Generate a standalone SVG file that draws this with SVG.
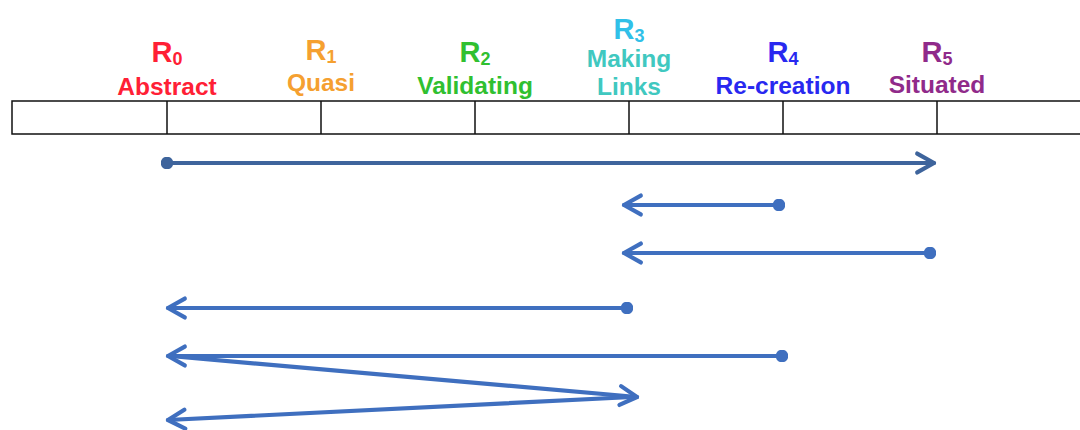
<svg xmlns="http://www.w3.org/2000/svg" width="1080" height="430" viewBox="0 0 1080 430">
<style>
.r{font-family:"Liberation Sans",Arial,sans-serif;font-weight:bold;font-size:29px;text-anchor:middle}
.s{font-size:18px}
.l{font-family:"Liberation Sans",Arial,sans-serif;font-weight:bold;font-size:24.5px;text-anchor:middle}
.bar{fill:none;stroke:#111;stroke-width:1.5}
.c{fill:none;stroke:#3f6fbf;stroke-width:4.2;stroke-linecap:round}
.c1{stroke:#3e649c}
</style>
<defs>
<marker id="ah" viewBox="0 0 12 12" refX="10" refY="6" markerWidth="6" markerHeight="6" markerUnits="strokeWidth" orient="auto">
<path d="M2,1.5 L10,6 L2,10.5" fill="none" stroke="#3f6fbf" stroke-width="2" stroke-linecap="round" stroke-linejoin="round"/>
</marker>
<marker id="ah1" viewBox="0 0 12 12" refX="10" refY="6" markerWidth="6" markerHeight="6" markerUnits="strokeWidth" orient="auto">
<path d="M2,1.5 L10,6 L2,10.5" fill="none" stroke="#3e649c" stroke-width="2" stroke-linecap="round" stroke-linejoin="round"/>
</marker>
<marker id="dot" viewBox="0 0 10 10" refX="5" refY="5" markerWidth="3" markerHeight="3" markerUnits="strokeWidth">
<circle cx="5" cy="5" r="5" fill="#3f6fbf"/>
</marker>
<marker id="dot1" viewBox="0 0 10 10" refX="5" refY="5" markerWidth="3" markerHeight="3" markerUnits="strokeWidth">
<circle cx="5" cy="5" r="5" fill="#3e649c"/>
</marker>
</defs>
<rect width="1080" height="430" fill="#fff"/>
<g id="scale">
<path class="bar" d="M1082,101 H12 V134 H1082"/>
<path class="bar" d="M167,101 V134 M321,101 V134 M475,101 V134 M629,101 V134 M783,101 V134 M937,101 V134"/>
</g>
<g id="R0" fill="#ff2035">
<text class="r" x="167" y="62">R<tspan class="s" dy="3">0</tspan></text>
<text class="l" x="167" y="95">Abstract</text>
</g>
<g id="R1" fill="#f5a030">
<text class="r" x="321" y="60">R<tspan class="s" dy="3">1</tspan></text>
<text class="l" x="321" y="91">Quasi</text>
</g>
<g id="R2" fill="#30c030">
<text class="r" x="475" y="62">R<tspan class="s" dy="3">2</tspan></text>
<text class="l" x="475" y="94">Validating</text>
</g>
<g id="R3">
<text class="r" x="629" y="39" fill="#30c0e8">R<tspan class="s" dy="3">3</tspan></text>
<text class="l" x="629" y="67" fill="#40c8c0">Making</text>
<text class="l" x="629" y="95" fill="#40c8c0">Links</text>
</g>
<g id="R4" fill="#2828f0">
<text class="r" x="783" y="62">R<tspan class="s" dy="3">4</tspan></text>
<text class="l" x="783" y="94">Re-creation</text>
</g>
<g id="R5" fill="#902a8a">
<text class="r" x="937" y="62">R<tspan class="s" dy="3">5</tspan></text>
<text class="l" x="937" y="93">Situated</text>
</g>
<g id="connectors">
<line class="c c1" x1="167" y1="163" x2="934" y2="163" marker-start="url(#dot1)" marker-end="url(#ah1)"/>
<line class="c" x1="779" y1="205" x2="624" y2="205" marker-start="url(#dot)" marker-end="url(#ah)"/>
<line class="c" x1="930" y1="253" x2="624" y2="253" marker-start="url(#dot)" marker-end="url(#ah)"/>
<line class="c" x1="627" y1="308" x2="168" y2="308" marker-start="url(#dot)" marker-end="url(#ah)"/>
<line class="c" x1="782" y1="356" x2="168" y2="356" marker-start="url(#dot)" marker-end="url(#ah)"/>
<line class="c" x1="170" y1="356" x2="637" y2="397" marker-end="url(#ah)"/>
<line class="c" x1="632" y1="397" x2="168" y2="420" marker-end="url(#ah)"/>
</g>
</svg>
